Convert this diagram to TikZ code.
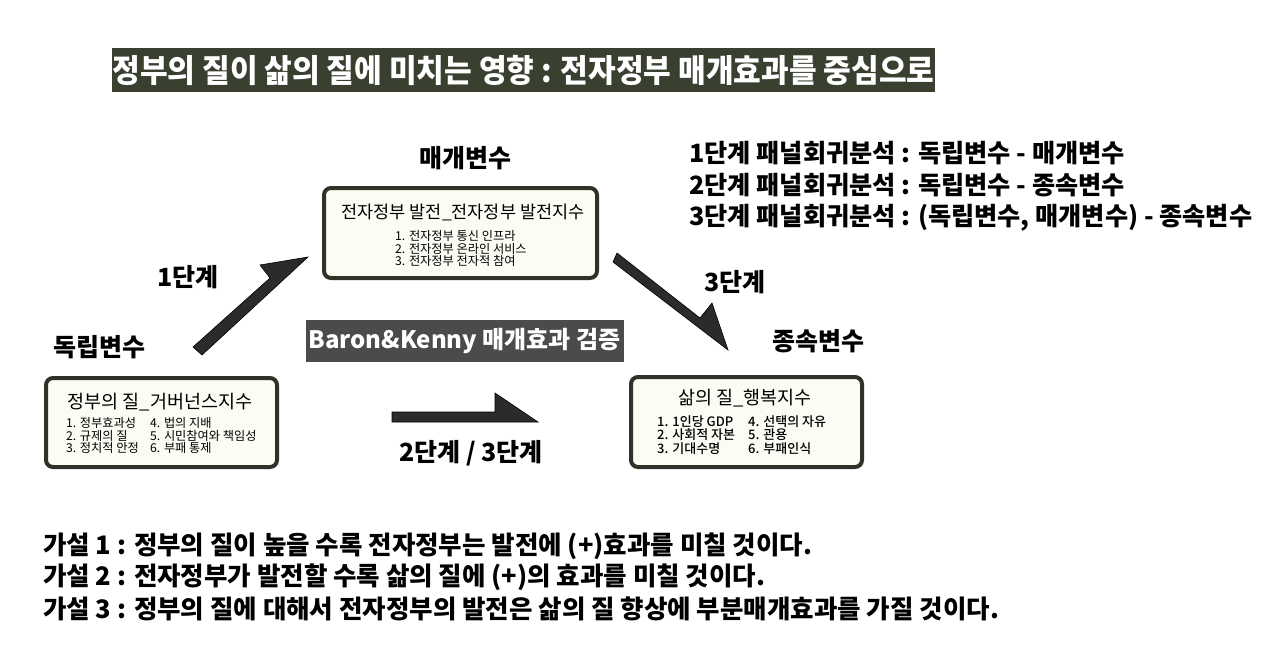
\documentclass[tikz,border=0pt]{standalone}
\usepackage{fontspec}
\setmainfont{Noto Sans CJK KR}
\newfontfamily\krmed{Noto Sans CJK KR Medium}
\definecolor{olive}{HTML}{3A4030}
\definecolor{boxline}{HTML}{2E3227}
\definecolor{boxfill}{HTML}{FCFCF4}
\definecolor{arrowc}{HTML}{2B2B2B}
\definecolor{bkgray}{HTML}{4B4B4B}
\tikzset{
  varbox/.style={draw=boxline, line width=4pt, rounded corners=7pt, fill=boxfill},
  biglabel/.style={font=\bfseries\fontsize{25}{28}\selectfont, inner sep=0pt},
  boxtitle/.style={font=\fontsize{18.5}{20}\selectfont, inner sep=0pt},
  itemtext/.style={font=\fontsize{12.2}{12.8}\selectfont, inner sep=0pt, anchor=north west, align=left},
  itemtextb/.style={font=\krmed\fontsize{13}{13.5}\selectfont, inner sep=0pt, anchor=north west, align=left},
  fatarrow/.style={fill=arrowc, draw=black, line width=0.6pt, line join=miter},
  sidetext/.style={font=\bfseries\fontsize{25.2}{28}\selectfont, inner sep=0pt, anchor=west},
  hyptext/.style={font=\bfseries\fontsize{25.5}{28}\selectfont, inner sep=0pt, anchor=west},
}
\begin{document}
\begin{tikzpicture}[x=1pt,y=-1pt]
\useasboundingbox (0,0) rectangle (1280,649);
\fill[white] (0,0) rectangle (1280,649);

% title bar
\node[fill=olive, minimum width=823pt, minimum height=44pt, inner sep=0pt] (titlebar) at (523.5,70) {};
\node[text=white, font=\bfseries\fontsize{32}{34}\selectfont, inner sep=0pt] (title) at (523.5,70)
  {\scalebox{0.94}[1]{정부의 질이 삶의 질에 미치는 영향 : 전자정부 매개효과를 중심으로}};

% mediator
\node[biglabel] (medlabel) at (465,158) {매개변수};
\node[varbox, minimum width=273pt, minimum height=90pt] (medbox) at (460.5,233) {};
\node[boxtitle, font=\fontsize{17.5}{19}\selectfont] (medtitle) at (463,212) {전자정부 발전\_전자정부 발전지수};
\node[itemtext] (meditems) at (395,230) {1. 전자정부 통신 인프라\\2. 전자정부 온라인 서비스\\3. 전자정부 전자적 참여};

% independent
\node[biglabel] (indlabel) at (99,347) {독립변수};
\node[varbox, minimum width=231pt, minimum height=89pt] (indbox) at (161.5,422.5) {};
\node[boxtitle] (indtitle) at (160,402) {정부의 질\_거버넌스지수};
\node[itemtext] (inditems1) at (66,417) {1. 정부효과성\\2. 규제의 질\\3. 정치적 안정};
\node[itemtext] (inditems2) at (150,417) {4. 법의 지배\\5. 시민참여와 책임성\\6. 부패 통제};

% dependent
\node[biglabel] (deplabel) at (818,341) {종속변수};
\node[varbox, minimum width=231pt, minimum height=90pt] (depbox) at (746.5,422) {};
\node[boxtitle] (deptitle) at (745,398) {삶의 질\_행복지수};
\node[itemtextb] (depitems1) at (657,415) {1. 1인당 GDP\\2. 사회적 자본\\3. 기대수명};
\node[itemtextb] (depitems2) at (748,415) {4. 선택의 자유\\5. 관용\\6. 부패인식};

% arrows
\draw[fatarrow] (193,347) -- (270,278) -- (260,265) -- (308,257) -- (202,355) -- cycle;
\draw[fatarrow] (392,412) -- (495,412) -- (495,393) -- (538,422) -- (392,422) -- cycle;
\draw[fatarrow] (617,253) -- (700,318) -- (712,303) -- (728,350) -- (613,262) -- cycle;

\node[biglabel] (s1) at (188,277) {1단계};
\node[biglabel] (s3) at (735,282) {3단계};
\node[biglabel] (s23) at (471,453) {2단계 / 3단계};

% Baron & Kenny
\node[fill=bkgray, minimum width=318pt, minimum height=42pt, inner sep=0pt] (bkbox) at (464.5,341) {};
\node[text=white, font=\bfseries\fontsize{24}{26}\selectfont, inner sep=0pt] (bktext) at (464.5,341) {Baron\&Kenny 매개효과 검증};

% side text
\node[sidetext] (l1) at (689,153) {1단계 패널회귀분석 : 독립변수 - 매개변수};
\node[sidetext] (l2) at (689,185) {2단계 패널회귀분석 : 독립변수 - 종속변수};
\node[sidetext] (l3) at (689,218) {3단계 패널회귀분석 : (독립변수, 매개변수) - 종속변수};

% hypotheses
\node[hyptext] (h1) at (43,546) {가설 1 : 정부의 질이 높을 수록 전자정부는 발전에 (+)효과를 미칠 것이다.};
\node[hyptext] (h2) at (43,577) {가설 2 : 전자정부가 발전할 수록 삶의 질에 (+)의 효과를 미칠 것이다.};
\node[hyptext] (h3) at (43,609) {가설 3 : 정부의 질에 대해서 전자정부의 발전은 삶의 질 향상에 부분매개효과를 가질 것이다.};
\end{tikzpicture}
\end{document}
